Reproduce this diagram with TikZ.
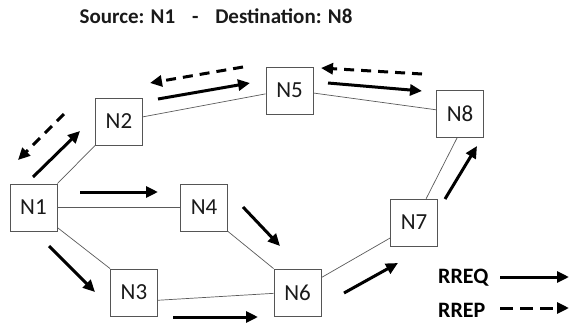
\documentclass[tikz,border=0pt]{standalone}
\usepackage{fontspec}
\setmainfont{Carlito}
\usetikzlibrary{arrows.meta}
\definecolor{boxgray}{HTML}{555555}
\definecolor{linegray}{HTML}{5A5A5A}
\definecolor{ink}{HTML}{1A1A1A}
\begin{document}
\begin{tikzpicture}[x=1pt,y=-1pt,
  netnode/.style={draw=boxgray, line width=0.8pt, minimum size=47pt, inner sep=0pt,
    font=\fontsize{23}{26}\selectfont, text=ink},
  link/.style={draw=linegray, line width=0.7pt},
  rreq/.style={draw=black, line width=3pt, -{Triangle[length=12pt,width=11pt]}},
  rrep/.style={rreq, dash pattern=on 10pt off 7pt},
  legendtext/.style={font=\bfseries\fontsize{22}{26}\selectfont, text=black, anchor=west, inner sep=0pt},
]
\useasboundingbox (0,0) rectangle (570,327);

% title
\node[font=\bfseries\fontsize{21}{25}\selectfont, text=ink] (title) at (216,16)
  {Source: N1\hspace{0.8em}-\hspace{0.8em}Destination: N8};

% network nodes
\node[netnode] (N1) at (33.5,207.5) {N1};
\node[netnode] (N2) at (119,121.5) {N2};
\node[netnode] (N3) at (134,292.5) {N3};
\node[netnode] (N4) at (204,207.5) {N4};
\node[netnode] (N5) at (289.5,90.5) {N5};
\node[netnode] (N6) at (297.5,292.5) {N6};
\node[netnode] (N7) at (414,222.5) {N7};
\node[netnode] (N8) at (460,114) {N8};

% links
\draw[link] (N1.north east) -- (N2.south west);
\draw[link] (N1.east) -- (N4.west);
\draw[link] (N1.-40) -- (N3.north west);
\draw[link] (N2.11) -- (N5.188);
\draw[link] (N5.-6) -- (N8.170);
\draw[link] (N4.south east) -- (N6.north west);
\draw[link] (N3.-18) -- (N6.182);
\draw[link] (N6.32) -- (N7.213);
\draw[link] (N7.63) -- (N8.-97);

% route request flood
\coordinate (q12a) at (33,177);   \coordinate (q12b) at (80,131);
\coordinate (q25a) at (158,99);   \coordinate (q25b) at (250,83);
\coordinate (q58a) at (328,83);   \coordinate (q58b) at (422,91);
\coordinate (q14a) at (80,192);   \coordinate (q14b) at (158,192);
\coordinate (q46a) at (243,207);  \coordinate (q46b) at (280,246);
\coordinate (q13a) at (49,246);   \coordinate (q13b) at (95,292);
\coordinate (q36a) at (173,317);  \coordinate (q36b) at (258,317);
\coordinate (q67a) at (344,293);  \coordinate (q67b) at (398,263);
\coordinate (q78a) at (445,199);  \coordinate (q78b) at (477,146);
\draw[rreq] (q12a) -- (q12b);
\draw[rreq] (q25a) -- (q25b);
\draw[rreq] (q58a) -- (q58b);
\draw[rreq] (q14a) -- (q14b);
\draw[rreq] (q46a) -- (q46b);
\draw[rreq] (q13a) -- (q13b);
\draw[rreq] (q36a) -- (q36b);
\draw[rreq] (q67a) -- (q67b);
\draw[rreq] (q78a) -- (q78b);

% route reply back along the path
\coordinate (p85a) at (422,74);   \coordinate (p85b) at (321,68);
\coordinate (p52a) at (243,67);   \coordinate (p52b) at (150,83);
\coordinate (p21a) at (64,114);   \coordinate (p21b) at (18,160);
\draw[rrep] (p85a) -- (p85b);
\draw[rrep] (p52a) -- (p52b);
\draw[rrep] (p21a) -- (p21b);

% legend
\node[legendtext] (lq) at (438,278) {RREQ};
\node[legendtext] (lp) at (438,310) {RREP};
\coordinate (lqa) at (500,277); \coordinate (lqb) at (569,277);
\coordinate (lpa) at (500,308); \coordinate (lpb) at (569,308);
\draw[rreq] (lqa) -- (lqb);
\draw[rrep, dash pattern=on 13pt off 7pt] (lpa) -- (lpb);
\end{tikzpicture}
\end{document}
